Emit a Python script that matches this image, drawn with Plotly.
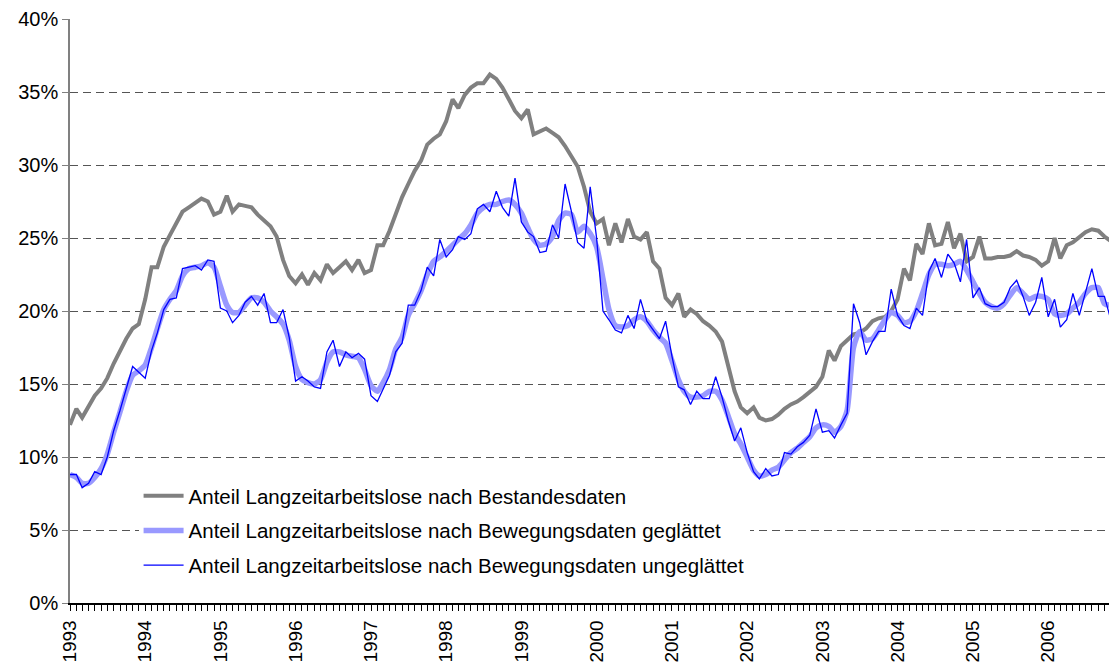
import pandas as pd
import plotly.graph_objects as go

months = pd.date_range("1993-01-01", periods=168, freq="MS")

bestand = [
    12.2, 13.3, 12.7, 13.5, 14.2, 14.7, 15.4, 16.4, 17.3, 18.1, 18.8, 19.1,
    20.8, 23.0, 23.0, 24.4, 25.2, 26.0, 26.8, 27.1, 27.4, 27.7, 27.5, 26.6,
    26.8, 27.9, 26.8, 27.3, 27.2, 27.1, 26.6, 26.2, 25.8, 25.1, 23.5, 22.4,
    21.9, 22.5, 21.8, 22.6, 22.1, 23.2, 22.6, 23.0, 23.4, 22.8, 23.5, 22.6,
    22.8, 24.5, 24.5, 25.5, 26.7, 27.8, 28.7, 29.6, 30.3, 31.4, 31.8, 32.1,
    33.0, 34.5, 33.9, 34.8, 35.3, 35.6, 35.6, 36.2, 35.9, 35.3, 34.5, 33.7,
    33.2, 33.8, 32.1, 32.3, 32.5, 32.2, 31.9, 31.3, 30.6, 29.9, 28.5, 26.8,
    26.0, 26.3, 24.5, 26.0, 24.7, 26.3, 25.1, 24.9, 25.4, 23.4, 22.9, 20.9,
    20.4, 21.2, 19.6, 20.1, 19.8, 19.3, 19.0, 18.6, 17.9, 16.2, 14.5, 13.4,
    13.0, 13.4, 12.7, 12.5, 12.6, 12.9, 13.3, 13.6, 13.8, 14.1, 14.5, 14.8,
    15.5, 17.3, 16.6, 17.6, 18.0, 18.4, 18.5, 18.8, 19.3, 19.5, 19.6, 20.0,
    20.8, 22.9, 22.1, 24.6, 23.9, 26.0, 24.5, 24.6, 26.1, 24.3, 25.3, 23.4,
    23.7, 25.1, 23.6, 23.6, 23.7, 23.7, 23.8, 24.1, 23.8, 23.7, 23.5, 23.1,
    23.4, 25.0, 23.6, 24.5, 24.7, 25.1, 25.4, 25.6, 25.5, 25.1, 24.8, 24.5,
]

geglaettet = [
    8.8, 8.6, 8.2, 8.2, 8.6, 9.2, 10.2, 11.7, 13.1, 14.5, 15.6, 15.9,
    16.3, 17.5, 18.8, 20.1, 20.8, 21.4, 22.4, 22.9, 23.0, 23.1, 23.3, 23.0,
    21.7, 20.4, 19.9, 19.9, 20.4, 20.9, 20.9, 20.6, 20.0, 19.6, 19.1, 18.0,
    16.2, 15.3, 15.1, 15.0, 15.3, 16.5, 17.2, 17.2, 17.0, 16.9, 16.8, 16.0,
    14.9, 14.5, 15.1, 16.0, 17.4, 18.2, 19.7, 20.5, 21.4, 22.5, 23.4, 23.7,
    24.1, 24.5, 24.9, 25.3, 25.9, 26.7, 27.1, 27.3, 27.3, 27.5, 27.6, 27.3,
    26.7, 25.7, 24.9, 24.5, 24.6, 25.1, 26.2, 26.7, 26.6, 25.4, 25.8, 25.3,
    24.4, 22.2, 20.1, 19.0, 18.9, 19.0, 19.4, 19.6, 19.3, 18.7, 18.2, 17.8,
    16.6, 15.3, 14.5, 14.1, 14.1, 14.2, 14.5, 14.5, 13.9, 12.8, 11.6, 10.9,
    10.0, 9.1, 8.7, 8.8, 9.1, 9.3, 9.8, 10.3, 10.6, 11.0, 11.4, 12.0,
    12.2, 12.1, 11.7, 12.1, 13.2, 17.5, 18.6, 18.0, 18.1, 18.7, 19.4, 19.9,
    19.7, 19.2, 19.3, 20.0, 21.2, 22.5, 23.2, 23.2, 23.1, 23.2, 23.4, 22.8,
    22.0, 21.2, 20.6, 20.3, 20.2, 20.5, 21.1, 21.6, 21.2, 20.8, 21.0, 21.0,
    20.8, 19.8, 19.7, 19.8, 20.2, 20.6, 21.2, 21.6, 21.6, 20.5, 20.4, 20.5,
]

ungeglaettet = [
    8.8, 8.8, 7.9, 8.2, 9.0, 8.8, 10.0, 11.8, 13.2, 14.6, 16.2, 15.8,
    15.4, 17.3, 18.5, 20.1, 20.8, 20.9, 22.9, 23.0, 23.1, 22.8, 23.5, 23.4,
    20.2, 20.0, 19.2, 19.7, 20.6, 21.0, 20.4, 21.2, 19.2, 19.2, 20.1, 18.2,
    15.2, 15.5, 15.2, 14.8, 14.7, 17.2, 18.0, 16.2, 17.2, 16.8, 17.1, 16.7,
    14.2, 13.8, 14.7, 15.6, 17.2, 17.8, 20.4, 20.4, 21.4, 23.0, 22.4, 24.9,
    23.7, 24.2, 25.1, 24.9, 25.3, 27.0, 27.3, 26.8, 28.2, 27.1, 26.5, 29.1,
    26.1, 25.4, 25.1, 24.0, 24.1, 25.9, 25.0, 28.7, 26.8, 24.7, 24.3, 28.5,
    25.0, 20.0, 19.4, 18.7, 18.5, 19.7, 18.8, 20.8, 19.3, 18.7, 18.1, 19.3,
    16.9, 14.8, 14.6, 13.6, 14.5, 14.0, 14.0, 15.5, 14.1, 12.5, 11.1, 12.0,
    10.3, 9.0, 8.5, 9.2, 8.7, 8.8, 10.3, 10.2, 10.7, 11.0, 11.5, 13.3,
    11.7, 11.8, 11.3, 12.2, 13.0, 20.5, 19.2, 17.0, 17.9, 18.6, 18.6, 21.5,
    19.7, 19.0, 18.8, 20.2, 19.7, 22.7, 23.6, 22.3, 23.9, 23.3, 22.0, 24.9,
    20.9, 21.6, 20.5, 20.3, 20.3, 20.6, 21.6, 22.1, 21.0, 19.7, 20.6, 22.3,
    19.6, 20.8, 18.9, 19.4, 21.2, 19.7, 21.2, 22.9, 21.0, 21.0, 19.4, 20.9,
]

FONT = "Arial, Liberation Sans, sans-serif"

fig = go.Figure()
fig.add_trace(go.Scatter(x=months, y=[v / 100 for v in bestand], mode="lines",
                         name="Anteil Langzeitarbeitslose nach Bestandesdaten",
                         line=dict(color="#808080", width=4), legendgroup="a"))
fig.add_trace(go.Scatter(x=months, y=[v / 100 for v in geglaettet], mode="lines",
                         name="Anteil Langzeitarbeitslose nach Bewegungsdaten geglättet",
                         line=dict(color="#9999FF", width=5.5, shape="spline", smoothing=0.6),
                         legendgroup="b"))
fig.add_trace(go.Scatter(x=months, y=[v / 100 for v in ungeglaettet], mode="lines",
                         name="Anteil Langzeitarbeitslose nach Bewegungsdaten ungeglättet",
                         line=dict(color="#0000FF", width=1.3), legendgroup="c"))

# the page adds an 8px body margin, so the margins are shifted to compensate
fig.update_layout(
    width=1117, height=666,
    margin=dict(l=62, r=8, t=11, b=71),
    plot_bgcolor="white", paper_bgcolor="white",
    font=dict(family=FONT, size=20, color="black"),
    legend=dict(x=0.0655, y=0.2175, xanchor="left", yanchor="top",
                bgcolor="white", font=dict(size=20.5), tracegroupgap=5,
                itemwidth=40),
    showlegend=True,
)
fig.update_yaxes(range=[0, 0.4], dtick=0.05, tickformat=".0%", automargin=False,
                 showgrid=True, gridcolor="#555555", gridwidth=1, griddash="8px,5px",
                 showline=True, linecolor="#808080", linewidth=1.5,
                 ticks="outside", ticklen=6, tickcolor="#808080", zeroline=False)
fig.update_xaxes(range=[months[0], months[-1]], dtick="M12", tickformat="%Y",
                 automargin=False, tickfont=dict(size=19),
                 tickangle=-90, showgrid=False, showline=True, linecolor="black",
                 linewidth=1.5, ticks="outside", ticklen=6, tickcolor="black",
                 minor=dict(dtick="M1", ticks="outside", ticklen=6, tickcolor="black"),
                 ticklabelstandoff=2)

fig.write_html("out.html")
